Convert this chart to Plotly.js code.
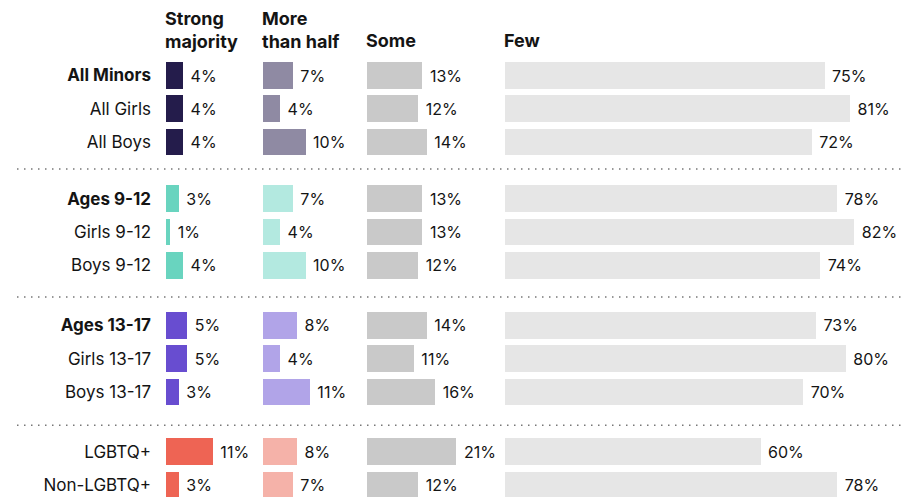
<!DOCTYPE html>
<html>
<head>
<meta charset="utf-8">
<script src="https://cdn.plot.ly/plotly-3.0.1.min.js"></script>
<style>html,body{margin:0;padding:0;background:#fff}#chart{width:915px;height:497px}</style>
</head>
<body>
<div id="chart"></div>
<script>
// ---- data ----
const rowLabels = ["All Minors","All Girls","All Boys","Ages 9-12","Girls 9-12","Boys 9-12","Ages 13-17","Girls 13-17","Boys 13-17","LGBTQ+","Non-LGBTQ+"];
const rowGroup  = [0,0,0,1,1,1,2,2,2,3,3];
const rowIsHead = [true,false,false,true,false,false,true,false,false,false,false];
const strongMajority = [4,4,4,3,1,4,5,5,3,11,3];
const moreThanHalf   = [7,4,10,7,4,10,8,4,11,8,7];
const some           = [13,12,14,13,13,12,14,11,16,21,12];
const few            = [75,81,72,78,82,74,73,80,70,60,78];
const columnHeaders  = ["Strong<br>majority","More<br>than half","Some","Few"];

// ---- styling / layout ----
const W = 915, H = 497;
const pitch = 33.3, firstRowPx = 75.5;
const groupStart = [0, 3.7, 7.5, 11.3];
const strongColors = ["#241c4b","#69d4bf","#684dd0","#ee6454"];
const moreColors   = ["#8f8aa3","#b3e9e0","#b1a4e8","#f5b2a9"];
const someColor = "#c9c9c9", fewColor = "#e6e6e6";
const pxPerPct = 4.26;
const colStartPx = [166, 263, 367, 505];
const colEndPx   = [262, 366, 504, 915];
const FONT = "Inter, 'Noto Sans', sans-serif";
const txtColor = "#141414";

const rowY = rowLabels.map((_, i) => {
  const g = rowGroup[i];
  const first = rowGroup.indexOf(g);
  return groupStart[g] + (i - first);
});

function barTrace(vals, axis, colors) {
  return {
    type: "bar", orientation: "h",
    x: vals, y: rowY, xaxis: axis, yaxis: "y",
    width: 0.8,
    marker: {color: colors, line: {width: 0}},
    text: vals.map(v => "\u00a0" + v + "%"),
    textposition: "outside",
    cliponaxis: false,
    textfont: {family: FONT, size: 16, color: txtColor},
    hoverinfo: "skip",
    showlegend: false
  };
}

const traces = [
  barTrace(strongMajority, "x",  rowGroup.map(g => strongColors[g])),
  barTrace(moreThanHalf,   "x2", rowGroup.map(g => moreColors[g])),
  barTrace(some,           "x3", rowGroup.map(() => someColor)),
  barTrace(few,            "x4", rowGroup.map(() => fewColor))
];

function xa(k) {
  return {
    domain: [colStartPx[k] / W, colEndPx[k] / W],
    range: [0, (colEndPx[k] - colStartPx[k]) / pxPerPct],
    visible: false, fixedrange: true,
    anchor: "y"
  };
}

const yTop = -firstRowPx / pitch;
const yBot = (H - firstRowPx) / pitch;

// separators between groups
const sepY = [2.81, 6.65, 10.5];
const shapes = sepY.map(y => ({
  type: "line", xref: "paper", yref: "y",
  x0: 17 / W, x1: 905 / W, y0: y, y1: y,
  line: {color: "#777", width: 1.5, dash: "1.5px,5.5px"},
  layer: "below"
}));

const headerTopPx = [6, 6, 28, 28];
const annotations = columnHeaders.map((t, k) => ({
  xref: "paper", yref: "paper",
  x: (colStartPx[k] - 3) / W, y: 1 - headerTopPx[k] / H,
  xanchor: "left", yanchor: "top", align: "left",
  text: "<b>" + t + "</b>", showarrow: false,
  font: {family: FONT, size: 18, color: txtColor}
}));

const layout = {
  width: W, height: H,
  margin: {l: 0, r: 0, t: 0, b: 0, pad: 0},
  paper_bgcolor: "#fff", plot_bgcolor: "#fff",
  bargap: 0,
  xaxis: xa(0), xaxis2: xa(1), xaxis3: xa(2), xaxis4: xa(3),
  yaxis: {
    range: [yBot, yTop], anchor: "x",
    tickmode: "array", tickvals: rowY,
    ticktext: rowLabels.map((l, i) => rowIsHead[i] ? "<b>" + l + "</b>" : l),
    tickfont: {family: FONT, size: 17, color: txtColor},
    ticks: "", ticklabelstandoff: 14,
    showgrid: false, zeroline: false, showline: false, fixedrange: true
  },
  shapes: shapes,
  annotations: annotations,
  font: {family: FONT, color: txtColor}
};

Plotly.newPlot("chart", traces, layout, {displayModeBar: false, staticPlot: true});
</script>
</body>
</html>
